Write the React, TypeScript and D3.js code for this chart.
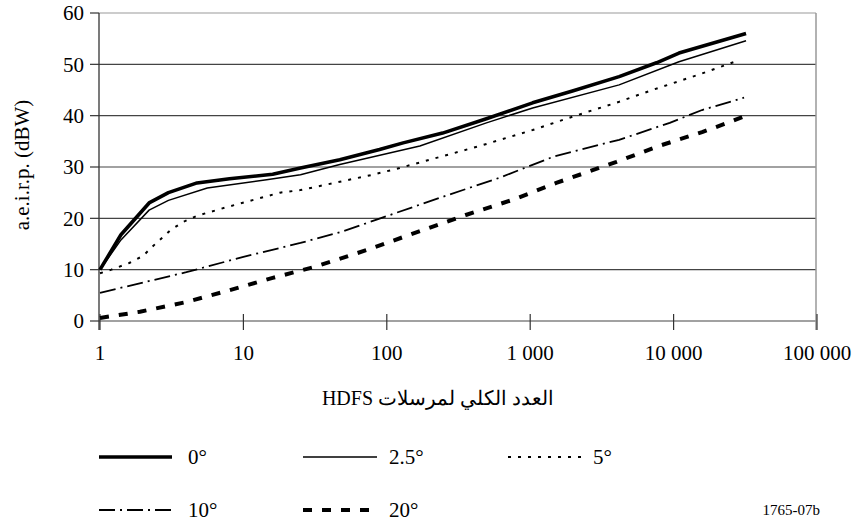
import React from 'react';
import * as d3 from 'd3';

// N (total number of HDFS transmitters) vs e.i.r.p. (dBW), per elevation angle
const s0 = [
  [1, 10], [1.4, 16.8], [2.2, 23], [3, 25], [4.75, 26.9], [8, 27.7], [16, 28.6], [25, 29.8],
  [47, 31.4], [89, 33.4], [130, 34.7], [245, 36.6], [495, 39.4], [1040, 42.5], [1970, 44.8],
  [4170, 47.6], [7600, 50.3], [10900, 52.2], [32000, 56],
];
const s25 = [
  [1, 10], [1.4, 15.8], [2.2, 21.6], [3, 23.5], [5.6, 25.9], [14.5, 27.5], [25, 28.5], [47, 30.5],
  [170, 34.1], [495, 38.6], [1040, 41.5], [4170, 46], [10900, 50.5], [32000, 54.6],
];
const s5 = [
  [1, 9.3], [1.2, 10], [1.6, 11.3], [2, 12.7], [2.3, 14.4], [3.1, 17.7], [3.8, 19.3], [4.75, 20.5],
  [7.7, 22.2], [18, 25], [25, 25.5], [80, 28.5], [123, 29.8], [445, 34.1], [1040, 37.2],
  [1970, 39.8], [4170, 42.7], [7100, 45], [15000, 48], [28000, 50.7],
];
const s10 = [
  [1, 5.5], [2, 7.5], [4, 9.5], [10, 12.5], [25, 15.2], [50, 17.5], [90, 20], [234, 24],
  [610, 27.9], [1450, 32], [4170, 35.3], [9400, 38.6], [15800, 41.1], [31000, 43.5],
];
const s20 = [
  [1, 0.6], [1.9, 1.8], [4, 3.7], [8, 6], [16, 8.4], [31, 10.5], [72, 13.8], [178, 17.7],
  [360, 20.7], [755, 23.6], [1520, 26.9], [4000, 31], [7900, 34.1], [15800, 36.8],
  [23800, 38.6], [32000, 40],
];

const xTicks = [1, 10, 100, 1000, 10000, 100000];
const xTickLabels = ['1', '10', '100', '1 000', '10 000', '100 000'];
const yTicks = [0, 10, 20, 30, 40, 50, 60];

const series = [
  { name: '0°', data: s0, width: 3.6, dash: null },
  { name: '2.5°', data: s25, width: 1.5, dash: null },
  { name: '5°', data: s5, width: 2, dash: '3,7' },
  { name: '10°', data: s10, width: 1.8, dash: '16,5,2,5' },
  { name: '20°', data: s20, width: 4, dash: '9,10' },
];

const tf = { fontFamily: "'Liberation Serif', 'Times New Roman', 'DejaVu Serif', serif" };

export default function App() {
  const x = d3.scaleLog().domain([1, 100000]).range([100, 817]);
  const y = d3.scaleLinear().domain([0, 60]).range([321, 13]);
  const line = d3.line<number[]>().x(d => x(d[0])).y(d => y(d[1]));

  const legendPos = [
    { x1: 99, x2: 172, ty: 457, tx: 188 },
    { x1: 303, x2: 377, ty: 457, tx: 389 },
    { x1: 508, x2: 583, ty: 457, tx: 593 },
    { x1: 99, x2: 172, ty: 510, tx: 188 },
    { x1: 303, x2: 377, ty: 510, tx: 389 },
  ];

  return (
    <svg width={856} height={524} style={{ position: 'absolute', left: 0, top: 0, background: '#fff' }}>
      {/* grid */}
      {yTicks.map(t => (
        <line key={t} x1={99} x2={816} y1={y(t)} y2={y(t)} stroke={t === 60 ? '#999' : '#444'} strokeWidth={1.2} />
      ))}
      <line x1={816} x2={816} y1={13} y2={330} stroke="#999" strokeWidth={1.5} />
      <line x1={99} x2={99} y1={13} y2={330} stroke="#333" strokeWidth={1.3} />
      {yTicks.map(t => (
        <g key={t}>
          <line x1={90} x2={99} y1={y(t)} y2={y(t)} stroke="#333" strokeWidth={1.2} />
          <text x={84} y={y(t)} dy="0.35em" textAnchor="end" fontSize={21} style={tf}>{t}</text>
        </g>
      ))}
      {xTicks.map((t, i) => (
        <g key={t}>
          <line x1={x(t)} x2={x(t)} y1={314} y2={330} stroke="#333" strokeWidth={1.2} />
          <text x={x(t)} y={353} dy="0.35em" textAnchor="middle" fontSize={21} style={tf}>{xTickLabels[i]}</text>
        </g>
      ))}
      <text transform="translate(22,165) rotate(-90)" textAnchor="middle" dy="0.35em" fontSize={21} style={tf}>
        a.e.i.r.p. (dBW)
      </text>
      <text x={438} y={398} dy="0.35em" textAnchor="middle" direction="rtl" fontSize={20} style={tf}>
        العدد الكلي لمرسلات HDFS
      </text>

      {/* series */}
      {series.map(s => (
        <path key={s.name} d={line(s.data) || ''} fill="none" stroke="#000" strokeWidth={s.width}
          strokeDasharray={s.dash || undefined} strokeLinejoin="round" />
      ))}

      {/* legend */}
      {series.map((s, i) => {
        const p = legendPos[i];
        return (
          <g key={s.name}>
            <line x1={p.x1} x2={p.x2} y1={p.ty} y2={p.ty} stroke="#000" strokeWidth={s.width}
              strokeDasharray={s.dash || undefined} />
            <text x={p.tx} y={p.ty} dy="0.35em" fontSize={21} style={tf}>{s.name}</text>
          </g>
        );
      })}
      <text x={820} y={510} dy="0.35em" textAnchor="end" fontSize={15} style={tf}>1765-07b</text>
    </svg>
  );
}
